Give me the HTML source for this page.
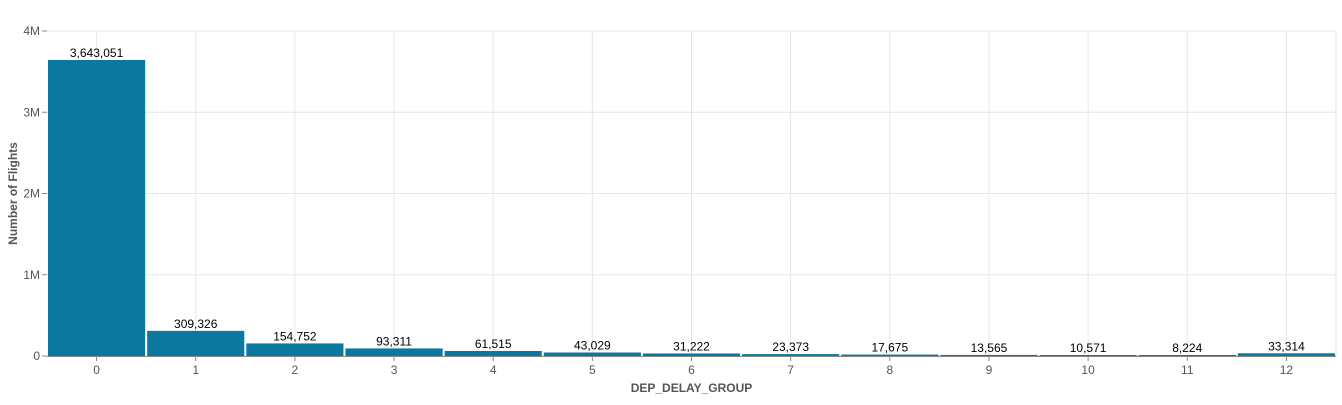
<!DOCTYPE html>
<html><head><meta charset="utf-8"><style>
body{margin:0;background:#fff;font-family:"Liberation Sans",Arial,sans-serif}
</style></head><body>
<svg id="chart" width="1342" height="400" xmlns="http://www.w3.org/2000/svg"></svg>
<script>
const categories=["0","1","2","3","4","5","6","7","8","9","10","11","12"];
const flights=[3643051,309326,154752,93311,61515,43029,31222,23373,17675,13565,10571,8224,33314];
const yTicks=[0,1000000,2000000,3000000,4000000];
const yTickLabels=["0","1M","2M","3M","4M"];
const NS="http://www.w3.org/2000/svg";
const svg=document.getElementById('chart');
const L=47,R=1336,T=31,B=356,yMax=4000000;
const bw=(R-L)/categories.length;
const x=i=>L+i*bw;
const y=v=>B-(v/yMax)*(B-T);
function mk(tag,attrs,parent){const e=document.createElementNS(NS,tag);for(const k in attrs)e.setAttribute(k,attrs[k]);(parent||svg).appendChild(e);return e;}
const grid=mk('g',{});


yTicks.forEach((t,i)=>{
  mk('line',{x1:L,x2:R,y1:y(t),y2:y(t),stroke:'#e6e6e6'},grid);
  mk('line',{x1:L-5,x2:L,y1:y(t),y2:y(t),stroke:'#888'},grid);
  const tx=mk('text',{x:L-7,y:y(t)+4,'text-anchor':'end','font-size':12,fill:'#555'});
  tx.textContent=yTickLabels[i];
  
  
});
categories.forEach((c,i)=>{
  const cx=x(i)+bw/2;
  mk('line',{x1:cx,x2:cx,y1:T,y2:B,stroke:'#e6e6e6'},grid);
});
mk('line',{x1:R,x2:R,y1:T,y2:B,stroke:'#e6e6e6'},grid);
categories.forEach((c,i)=>{
  const cx=x(i)+bw/2;
  const h=Math.max(B-y(flights[i]),1);
  const r=mk('rect',{x:x(i)+1,y:B-h,width:bw-2,height:h,fill:'#0b799e'});
  
  
  const lbl=mk('text',{x:cx,y:B-h-3,'text-anchor':'middle','font-size':12,fill:'#000'});
  lbl.textContent=flights[i].toLocaleString('en-US');
  
  
  mk('line',{x1:cx,x2:cx,y1:B,y2:B+5,stroke:'#888'});
  const xt=mk('text',{x:cx,y:B+18,'text-anchor':'middle','font-size':12,fill:'#555'});
  xt.textContent=c;
  
  
});
mk('line',{x1:L,x2:R,y1:B+0.5,y2:B+0.5,stroke:'#888'});
const xt=mk('text',{x:(L+R)/2,y:392,'text-anchor':'middle','font-size':12,'font-weight':'bold',fill:'#555'});
xt.textContent='DEP_DELAY_GROUP';


const yt=mk('text',{x:17,y:(T+B)/2,'text-anchor':'middle','font-size':12,'font-weight':'bold',fill:'#555',transform:'rotate(-90 17 '+(T+B)/2+')'});
yt.textContent='Number of Flights';


</script>
</body></html>
